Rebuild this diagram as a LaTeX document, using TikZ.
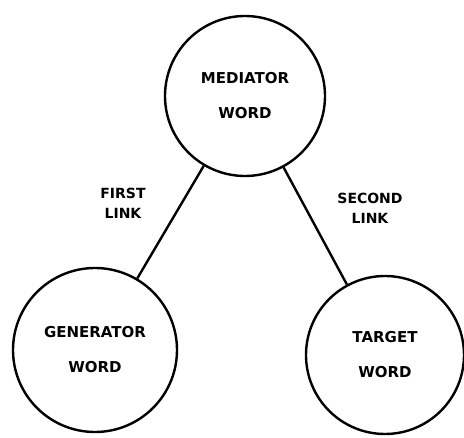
\documentclass[tikz,border=0pt]{standalone}
\usepackage{fontspec}
\usetikzlibrary{positioning}
\newfontfamily\wordfont{DejaVu Sans}

\tikzset{
  wordcircle/.style={circle, draw, line width=2.4pt, inner sep=0pt,
    minimum size=160pt, align=center,
    font=\wordfont\bfseries\fontsize{15}{35}\selectfont},
  linklabel/.style={align=center, inner sep=0pt,
    font=\wordfont\bfseries\fontsize{14}{20}\selectfont}
}

\begin{document}
\begin{tikzpicture}[x=1pt, y=-1pt]
        \useasboundingbox (0,0) rectangle (464,438);
        \node[wordcircle] (med) at (245, 96) {MEDIATOR\\WORD};
        \node[wordcircle, minimum size=164pt] (gen) at (95, 350) {GENERATOR\\WORD};
        \node[wordcircle, minimum size=158pt] (tgt) at (385, 355) {TARGET\\WORD};
        \draw[line width=2.4pt] (med) -- (gen);
        \draw[line width=2.4pt] (med) -- (tgt);
        \node[linklabel] (first) at (123, 203) {FIRST\\LINK};
        \node[linklabel] (second) at (370, 208) {SECOND\\LINK};
      \end{tikzpicture}
\end{document}
